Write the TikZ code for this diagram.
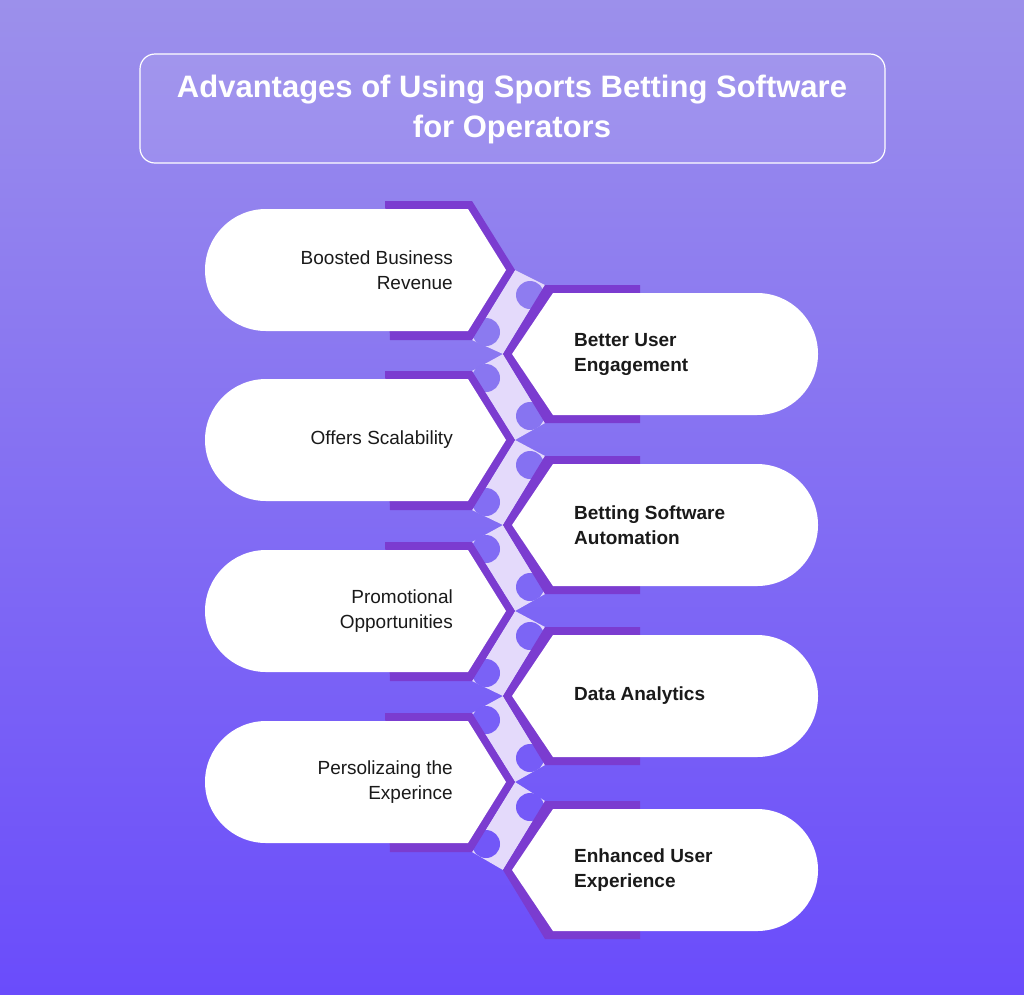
\documentclass[tikz,border=0pt]{standalone}
\usepackage{fontspec}
\setmainfont{Liberation Sans}
\definecolor{bgtop}{HTML}{9C90EB}
\definecolor{bgbot}{HTML}{6A4CFB}
\definecolor{frame}{HTML}{7B3CD0}
\definecolor{lav}{HTML}{E4DAFB}
\definecolor{ink}{HTML}{1A1A1A}
\tikzset{
  cardtext/.style={font=\fontsize{19}{25}\selectfont, text=ink, inner sep=0pt},
}
\newcommand{\blob}[2]{%
  \pgfmathtruncatemacro{\pp}{(#2)/9.94}%
  \colorlet{bgmid}{bgbot!\pp!bgtop}%
  \fill[bgmid] (#1,#2) circle (14);}
\newcommand{\leftcard}[3]{% y, name, text
  \fill[frame] (385,#1-69) -- (472,#1-69) -- (515,#1) -- (472,#1+70) -- (390,#1+70) -- cycle;
  \fill[white] (266,#1-61) -- (468,#1-61) -- (506,#1) -- (468,#1+61) -- (266,#1+61) arc[start angle=90,end angle=270,radius=61] -- cycle;
  \node[cardtext, align=right, anchor=east] (#2) at (453,#1) {#3};}
\newcommand{\rightcard}[3]{%
  \fill[frame] (640,#1-69) -- (545,#1-69) -- (503,#1) -- (545,#1+69) -- (640,#1+69) -- cycle;
  \fill[white] (757,#1-61) arc[start angle=-90,end angle=90,radius=61] -- (553,#1+61) -- (512,#1) -- (553,#1-61) -- cycle;
  \node[cardtext, align=left, anchor=west] (#2) at (574,#1) {#3};}
\newcommand{\stripA}[2]{% left y, right y
  \fill[lav] (515,#1) -- (545,#2-69) -- (503,#2) -- (472,#1+70) -- cycle;
  \blob{530}{#1+25}\blob{486}{#1+62}}
\newcommand{\stripB}[2]{% right y, next left y
  \fill[lav] (503,#1) -- (545,#1+69) -- (515,#2) -- (472,#2-69) -- cycle;
  \blob{486}{#1+24}\blob{530}{#1+62}}
\begin{document}
\begin{tikzpicture}[x=1pt,y=-1pt]
\shade[top color=bgtop, bottom color=bgbot] (0,0) rectangle (1024,994);
\useasboundingbox (0,0) rectangle (1024,994);
\draw[white, line width=1.2pt, fill=white, fill opacity=0.08, rounded corners=15] (140,54) rectangle (885,163);
\node[font=\bfseries\fontsize{31}{40}\selectfont, text=white, align=center] (title) at (512,109) {Advantages of Using Sports Betting Software\\for Operators};
\stripA{270}{354}\stripB{354}{440}\stripA{440}{525}\stripB{525}{611}\stripA{611}{696}\stripB{696}{782}\stripA{782}{870}
\leftcard{270}{c1}{Boosted Business\\Revenue}
\rightcard{354}{c2}{\bfseries Better User\\\bfseries Engagement}
\leftcard{440}{c3}{Offers Scalability}
\rightcard{525}{c4}{\bfseries Betting Software\\\bfseries Automation}
\leftcard{611}{c5}{Promotional\\Opportunities}
\rightcard{696}{c6}{\bfseries Data Analytics}
\leftcard{782}{c7}{Persolizaing the\\Experince}
\rightcard{870}{c8}{\bfseries Enhanced User\\\bfseries Experience}
\end{tikzpicture}
\end{document}
